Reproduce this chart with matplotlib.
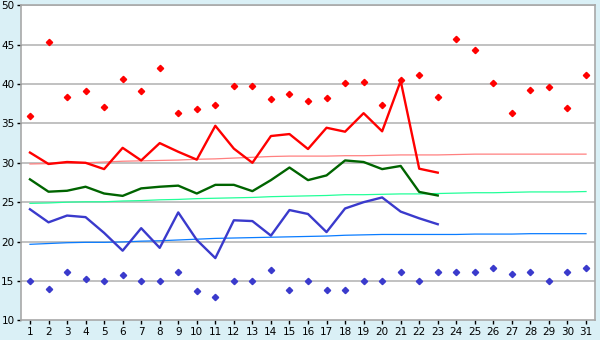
import matplotlib
matplotlib.use("Agg")
import matplotlib.pyplot as plt

days = list(range(1, 32))
obs_days = list(range(1, 24))

tmax = [31.3, 29.85, 30.1, 30.0, 29.2, 31.9, 30.3, 32.5, 31.4, 30.4, 34.7, 31.8, 30.0,
        33.4, 33.65, 31.75, 34.45, 33.95, 36.3, 34.0, 40.4, 29.25, 28.75]
tmean = [27.9, 26.33, 26.45, 26.96, 26.1, 25.8, 26.75, 26.96, 27.1, 26.1, 27.2, 27.2, 26.4,
         27.8, 29.4, 27.8, 28.4, 30.3, 30.1, 29.2, 29.6, 26.3, 25.85]
tmin = [24.1, 22.44, 23.3, 23.1, 21.1, 18.84, 21.7, 19.2, 23.7, 20.2, 17.9, 22.7, 22.6,
        20.75, 24.0, 23.5, 21.2, 24.2, 25.0, 25.6, 23.8, 22.95, 22.2]

rec_max = [35.9, 45.3, 38.3, 39.1, 37.05, 40.6, 39.1, 42.0, 36.3, 36.8, 37.3, 39.7, 39.8,
           38.06, 38.8, 37.8, 38.2, 40.1, 40.2, 37.35, 40.5, 41.15, 38.3, 45.7, 44.3, 40.1,
           36.3, 39.3, 39.6, 36.9, 41.1]
rec_min = [15.0, 14.0, 16.1, 15.2, 15.0, 15.7, 15.0, 15.0, 16.1, 13.7, 12.9, 15.0, 15.0,
           16.35, 13.9, 15.0, 13.9, 13.9, 15.0, 15.0, 16.1, 15.0, 16.1, 16.1, 16.1, 16.6,
           15.85, 16.1, 15.0, 16.1, 16.6]

norm_max = [29.85, 29.9, 30.0, 30.0, 30.1, 30.2, 30.25, 30.3, 30.35, 30.45, 30.5, 30.6, 30.7,
            30.8, 30.85, 30.85, 30.85, 30.9, 30.9, 30.95, 31.0, 31.0, 31.0, 31.05, 31.1, 31.1,
            31.1, 31.1, 31.1, 31.1, 31.1]
norm_mean = [24.85, 24.9, 25.0, 25.05, 25.05, 25.15, 25.2, 25.3, 25.35, 25.45, 25.5, 25.55,
             25.6, 25.7, 25.75, 25.8, 25.85, 25.95, 25.95, 26.0, 26.05, 26.05, 26.1, 26.15,
             26.2, 26.2, 26.25, 26.3, 26.3, 26.3, 26.35]
norm_min = [19.65, 19.75, 19.85, 19.9, 19.9, 19.95, 20.05, 20.1, 20.2, 20.3, 20.4, 20.45, 20.5,
            20.55, 20.6, 20.65, 20.7, 20.8, 20.85, 20.9, 20.9, 20.9, 20.9, 20.9, 20.95, 20.95,
            20.95, 21.0, 21.0, 21.0, 21.0]

yticks = [10, 15, 20, 25, 30, 35, 40, 45, 50]

bg = "#daf0f6"
fig = plt.figure(figsize=(6, 3.4), dpi=100, facecolor=bg)
ax = fig.add_axes([20.7 / 600, 1 - 320.3 / 340, (595.3 - 20.7) / 600, (320.3 - 5.3) / 340])
ax.set_facecolor("white")

for y in yticks[1:]:
    ax.axhline(y, color="#b0b0b0", lw=1.1, zorder=1)

ax.plot(days, norm_max, color="#ff8080", lw=0.9, zorder=2)
ax.plot(days, norm_mean, color="#22ff99", lw=0.9, zorder=2)
ax.plot(days, norm_min, color="#0a7cff", lw=0.9, zorder=2)

ax.plot(obs_days, tmax, color="#ff0000", lw=1.7, zorder=3)
ax.plot(obs_days, tmean, color="#006400", lw=1.7, zorder=3)
ax.plot(obs_days, tmin, color="#3a3acc", lw=1.7, zorder=3)

ax.plot(days, rec_max, ls="none", marker="D", ms=3.2, color="#ff0000", zorder=4)
ax.plot(days, rec_min, ls="none", marker="D", ms=3.2, color="#3a3acc", zorder=4)

ax.set_xlim(0.5, 31.5)
ax.set_ylim(10, 50)
ax.set_xticks(days)
ax.set_yticks(yticks)
ax.tick_params(axis="both", direction="out", length=3, width=1, color="black",
               labelsize=7.5, pad=1.5)
for s in ax.spines.values():
    s.set_color("#a8a8a8")
    s.set_linewidth(1.2)

fig.savefig("out.png", dpi=100, facecolor=bg)
